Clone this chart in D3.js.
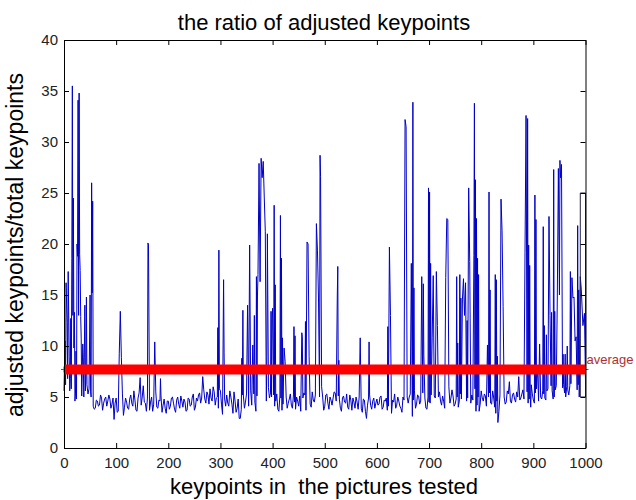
<!DOCTYPE html>
<html>
<head>
<meta charset="utf-8">
<script src="https://cdn.jsdelivr.net/npm/d3@7"></script>
<style>
  body { margin: 0; background: #fff; }
  svg text { font-family: "Liberation Sans", Arial, sans-serif; }
</style>
</head>
<body>
<div id="graf"></div>
<script>
// ratio read every 4th picture (0, 4, 8 ... 988)
const sampled = [
  5.6, 7.2, 5.9, 6.8, 5.2, 8.1, 4.8, 6.3, 7.5, 5.4,
  6.1, 5.2, 5.8, 5.0, 4.5, 3.9, 4.6, 4.2, 4.9, 4.4,
  5.0, 4.6, 4.8, 4.3, 2.8, 4.9, 3.6, 4.7, 5.3, 4.0,
  4.5, 3.8, 5.2, 4.1, 4.7, 3.6, 5.4, 4.2, 6.1, 4.4,
  4.9, 3.7, 5.0, 4.3, 5.5, 3.9, 4.6, 3.5, 4.8, 3.4,
  4.6, 4.1, 5.0, 3.8, 4.7, 4.3, 5.1, 4.0, 4.5, 3.7,
  4.8, 4.2, 5.3, 4.0, 4.6, 5.4, 4.9, 5.7, 4.4, 5.2,
  5.8, 4.6, 5.5, 4.9, 3.9, 5.6, 3.3, 4.8, 5.2, 4.1,
  5.0, 3.4, 4.6, 3.9, 4.4, 3.8, 5.1, 4.5, 3.7, 4.9,
  4.2, 5.3, 3.6, 17.0, 16.3, 26.5, 24.6, 4.6, 5.9, 5.4,
  4.7, 4.1, 5.3, 3.6, 4.9, 4.3, 5.6, 3.9, 4.8, 4.2,
  5.2, 3.8, 4.6, 5.1, 4.0, 5.4, 3.7, 4.9, 4.3, 5.5,
  4.5, 5.8, 3.9, 4.6, 5.0, 4.1, 5.3, 3.8, 4.7, 4.9,
  5.4, 4.2, 4.8, 3.6, 5.1, 4.4, 4.0, 5.2, 3.7, 4.5,
  5.0, 3.8, 4.4, 3.5, 4.7, 3.5, 4.9, 4.2, 4.6, 3.9,
  4.8, 4.3, 5.1, 4.0, 4.6, 3.7, 5.2, 3.4, 4.5, 3.9,
  5.0, 4.1, 3.5, 4.7, 5.5, 4.4, 5.3, 4.0, 5.6, 4.3,
  5.1, 4.6, 5.4, 4.9, 3.8, 4.5, 5.2, 4.7, 4.9, 4.1,
  5.5, 4.2, 4.6, 3.6, 5.0, 4.4, 5.7, 4.1, 4.8, 4.0,
  5.3, 4.3, 4.9, 4.6, 5.0, 4.4, 4.7, 5.8, 4.2, 4.5,
  5.6, 4.6, 5.1, 4.8, 5.4, 4.3, 4.9, 3.4, 2.5, 5.2,
  4.7, 5.0, 4.5, 5.3, 4.6, 5.2, 4.8, 5.5, 4.4, 4.9,
  5.7, 4.6, 5.5, 4.8, 6.2, 4.7, 5.4, 3.9, 5.6, 4.8,
  5.3, 4.7, 5.8, 4.9, 5.6, 5.0, 6.1, 5.2, 26.5, 5.9,
  5.4, 6.0, 5.2, 6.3, 5.5, 6.1, 5.7, 5.0
];
// ratio read half way between those (2, 6, 10 ... 986)
const sampledMid = [
  6.5, 12.0, 9.0, 5.8, 24.5, 5.3, 18.8, 19.0, 5.1, 5.0,
  7.2, 5.5, 6.0, 5.1, 3.8, 4.7, 4.1, 5.2, 3.7, 4.8,
  4.1, 5.2, 3.9, 4.9, 4.4, 3.5, 5.0, 4.3, 3.2, 4.9,
  3.9, 4.8, 4.4, 5.6, 3.7, 4.9, 4.1, 5.0, 4.5, 3.6,
  19.9, 4.5, 3.6, 5.2, 4.0, 4.7, 5.1, 4.2, 3.9, 4.6,
  3.8, 4.9, 4.4, 3.5, 5.0, 3.9, 4.6, 4.8, 3.6, 4.9,
  4.1, 5.0, 3.7, 4.9, 5.2, 4.4, 7.0, 4.8, 5.5, 4.3,
  4.9, 6.0, 4.2, 5.0, 5.8, 4.3, 5.0, 4.1, 4.4, 5.6,
  4.3, 5.5, 3.5, 4.8, 2.9, 5.2, 3.9, 5.3, 4.1, 5.6,
  10.1, 4.5, 5.1, 15.8, 27.9, 28.4, 28.1, 21.0, 4.9, 5.0,
  5.2, 4.6, 3.8, 5.1, 3.7, 4.8, 5.0, 4.4, 5.3, 3.9,
  4.5, 5.0, 4.1, 3.6, 4.9, 5.2, 4.4, 5.6, 4.0, 4.7,
  5.2, 4.1, 5.0, 4.4, 3.7, 5.2, 4.4, 5.0, 4.2, 5.5,
  4.6, 5.1, 3.9, 4.9, 4.5, 5.3, 3.8, 4.7, 4.9, 3.9,
  4.5, 5.0, 3.9, 4.8, 3.6, 4.2, 5.2, 3.8, 4.9, 4.4,
  4.2, 5.0, 3.8, 4.7, 4.9, 4.1, 3.6, 4.7, 5.3, 4.2,
  4.6, 3.9, 5.0, 4.4, 3.6, 5.0, 3.1, 4.7, 3.9, 5.2,
  4.3, 5.3, 4.2, 3.9, 5.0, 4.4, 3.9, 5.1, 4.5, 5.0,
  4.6, 5.1, 3.9, 4.8, 6.0, 4.9, 5.1, 4.3, 5.0, 4.6,
  4.8, 4.1, 5.4, 4.9, 3.8, 5.2, 4.6, 3.6, 5.0, 4.3,
  4.9, 5.3, 4.1, 5.0, 4.4, 5.6, 4.0, 4.6, 3.6, 4.5,
  5.2, 4.3, 5.6, 4.8, 4.4, 5.4, 4.5, 5.0, 4.7, 5.3,
  4.8, 5.2, 4.4, 5.1, 5.3, 4.4, 5.8, 4.6, 5.0, 5.6,
  4.9, 5.6, 5.0, 6.1, 4.8, 5.7, 5.2, 5.4, 27.5, 6.2,
  5.0, 5.7, 6.1, 5.3, 5.9, 5.4, 6.2
];
const step = 4;

// peaks and other points between the samples: [picture, ratio]
const peaks = [
  [2, 10.5], [3, 6.2], [4, 16.2], [6, 12.3], [7, 6.8], [8, 17.3], [10, 9.0], [11, 5.6],
  [13, 12.7], [14, 5.8], [15, 18.6], [16, 35.5], [17, 13.0], [18, 24.5], [19, 9.8], [20, 13.3],
  [21, 4.6], [23, 9.5], [25, 20.0], [26, 18.8], [27, 34.1], [28, 13.0], [29, 34.8], [30, 19.0],
  [31, 17.4], [32, 12.9], [33, 10.7], [34, 5.1], [36, 10.2], [37, 8.9], [38, 5.0], [40, 14.0],
  [41, 5.6], [43, 14.8], [44, 6.2], [46, 5.3], [50, 15.0], [51, 5.5], [53, 26.0], [54, 15.2],
  [55, 24.2], [56, 4.1],
  [106, 9.3], [108, 13.4], [110, 8.9], [146, 6.9], [161, 20.1], [162, 19.9], [174, 10.4], [185, 6.8],
  [266, 7.0], [295, 11.8], [297, 19.4], [306, 16.5], [307, 9.4], [336, 2.9], [341, 8.8], [343, 13.5],
  [352, 14.0], [356, 19.9], [362, 10.1], [365, 13.0], [369, 16.8], [371, 15.0], [374, 27.9], [376, 16.3],
  [378, 28.4], [380, 26.5], [382, 28.1], [384, 24.6], [386, 21.2], [389, 9.0], [397, 13.4], [399, 12.7],
  [400, 13.7], [403, 23.8], [405, 16.0], [415, 22.8], [417, 18.6], [419, 10.8], [422, 9.8], [424, 8.5],
  [441, 11.9], [443, 11.0], [456, 11.3], [457, 10.9], [463, 12.4], [466, 20.2], [468, 20.0], [470, 9.0],
  [484, 22.0], [486, 19.4], [488, 14.8], [491, 28.7], [492, 26.6], [494, 6.0], [524, 14.8], [525, 17.8],
  [527, 8.6], [568, 10.8], [580, 2.9], [585, 10.4],
  [621, 11.9], [624, 19.7], [626, 13.0], [654, 32.2], [656, 31.5], [658, 5.0], [666, 18.1], [668, 3.1],
  [669, 33.9], [671, 15.7], [686, 16.8], [689, 16.1], [690, 9.1], [699, 25.5], [701, 25.1], [703, 18.1],
  [706, 10.8], [708, 16.9], [714, 17.3], [716, 12.0], [732, 16.7], [734, 22.5], [736, 22.4], [738, 6.0],
  [753, 16.8], [755, 10.3], [759, 17.0], [761, 14.7], [764, 14.6], [766, 16.6], [768, 13.0], [770, 16.2],
  [773, 12.5], [776, 25.5], [778, 18.3], [786, 18.9], [787, 33.8], [789, 26.3], [791, 22.5], [793, 18.6],
  [795, 17.0], [796, 3.6],
  [812, 10.1], [815, 25.1], [817, 15.5], [827, 17.0], [829, 16.5], [831, 9.0], [838, 24.4], [840, 21.3],
  [842, 13.9], [854, 6.5], [872, 7.0], [884, 19.2], [886, 32.6], [889, 32.3], [891, 19.9], [893, 17.9],
  [895, 4.0], [903, 24.8], [905, 22.4], [908, 8.0], [912, 10.2], [919, 21.7], [921, 12.0], [925, 11.1],
  [930, 22.7], [932, 13.0], [935, 13.3], [939, 27.3], [941, 13.4], [946, 15.0], [948, 27.4], [950, 15.0],
  [951, 28.2], [954, 27.8], [957, 9.2], [961, 9.2], [965, 10.0], [971, 17.3], [974, 16.7], [976, 14.7],
  [978, 14.8], [980, 10.5], [982, 10.9], [985, 21.8], [987, 15.5], [990, 16.8], [992, 15.5], [995, 12.0],
  [998, 13.2], [1000, 6.5]
];

// the small box drawn at the right edge
const edgeBox = [[990, 5.0], [1000, 5.0], [1000, 25.0], [990, 25.0], [990, 5.0]];

const average = 7.7;
const averageEnds = [0, 1000];

const xTicks = [0, 100, 200, 300, 400, 500, 600, 700, 800, 900, 1000];
const yTicks = [0, 5, 10, 15, 20, 25, 30, 35, 40];

const titulo = "the ratio of adjusted keypoints";
const xLabel = "keypoints in  the pictures tested";
const yLabel = "adjusted keypoints/total keypoints";

const ancho_total = 636;
const alto_total = 500;

const svg = d3.select("#graf")
  .append("svg")
  .attr("width", ancho_total)
  .attr("height", alto_total);

const x = d3.scaleLinear().domain([0, 1000]).range([64, 585.5]);
const y = d3.scaleLinear().domain([0, 40]).range([448, 40]);

// merge samples and peaks, peaks win on the same picture
const porX = new Map();
sampled.forEach((v, i) => porX.set(i * step, v));
sampledMid.forEach((v, i) => porX.set(2 + i * step, v));
peaks.forEach(([k, v]) => porX.set(k, v));
const serie = Array.from(porX, ([k, v]) => ({ k, v })).sort((a, b) => a.k - b.k);

const line = d3.line().x((d) => x(d.k)).y((d) => y(d.v));

svg.append("path")
  .datum(serie)
  .attr("fill", "none")
  .attr("stroke", "#0000c8")
  .attr("stroke-width", 1)
  .attr("d", line);

svg.append("path")
  .datum(edgeBox.map(([k, v]) => ({ k, v })))
  .attr("fill", "none")
  .attr("stroke", "#23233a")
  .attr("stroke-width", 1)
  .attr("d", line);

// average line
svg.append("line")
  .attr("x1", x(averageEnds[0]))
  .attr("x2", x(averageEnds[1]))
  .attr("y1", y(average))
  .attr("y2", y(average))
  .attr("stroke", "#ff0000")
  .attr("stroke-width", 10);

svg.selectAll(".marca")
  .data(averageEnds)
  .enter()
  .append("path")
  .attr("class", "marca")
  .attr("transform", (d) => `translate(${x(d)},${y(average)})`)
  .attr("d", "M-3,0H3M0,-3V3")
  .attr("stroke", "#b03030")
  .attr("stroke-width", 1);

svg.append("text")
  .attr("x", x(1000) + 1)
  .attr("y", y(average) - 5)
  .attr("fill", "#b03030")
  .style("font-size", "13px")
  .text("average");

// axes, ticks inside on all four sides
const estiloEje = (g) => {
  g.select(".domain").attr("stroke", "#000");
  g.selectAll(".tick line").attr("stroke", "#000");
  g.selectAll(".tick text").attr("fill", "#222").style("font-size", "15px").style("font-family", "'Liberation Sans', Arial, sans-serif");
};

svg.append("g")
  .attr("transform", `translate(0,${y(0)})`)
  .call(d3.axisBottom(x).tickValues(xTicks).tickFormat(d3.format("d")).tickSizeInner(-5).tickSizeOuter(0).tickPadding(9))
  .call(estiloEje);

svg.append("g")
  .attr("transform", `translate(0,${y(40)})`)
  .call(d3.axisTop(x).tickValues(xTicks).tickFormat("").tickSizeInner(-5).tickSizeOuter(0))
  .call(estiloEje);

svg.append("g")
  .attr("transform", `translate(${x(0)},0)`)
  .call(d3.axisLeft(y).tickValues(yTicks).tickFormat(d3.format("d")).tickSizeInner(-5).tickSizeOuter(0).tickPadding(6))
  .call(estiloEje);

svg.append("g")
  .attr("transform", `translate(${x(1000)},0)`)
  .call(d3.axisRight(y).tickValues(yTicks).tickFormat("").tickSizeInner(-5).tickSizeOuter(0))
  .call(estiloEje);

// labels
svg.append("text")
  .attr("x", 324)
  .attr("y", 30)
  .attr("text-anchor", "middle")
  .style("font-size", "22px")
  .text(titulo);

svg.append("text")
  .attr("x", 324)
  .attr("y", 494)
  .attr("text-anchor", "middle")
  .style("font-size", "22px")
  .style("white-space", "pre")
  .text(xLabel);

svg.append("text")
  .attr("transform", "translate(23,245) rotate(-90)")
  .attr("text-anchor", "middle")
  .style("font-size", "23px")
  .text(yLabel);
</script>
</body>
</html>
